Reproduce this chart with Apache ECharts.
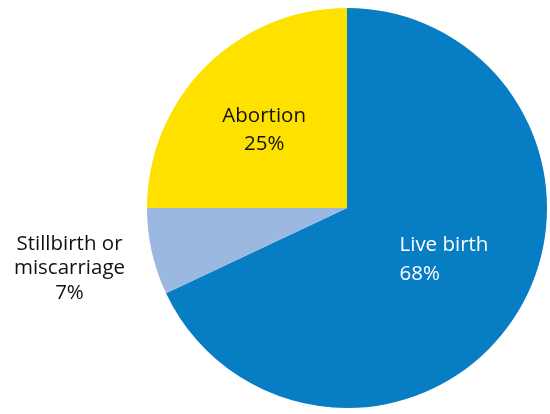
<!DOCTYPE html>
<html><head><meta charset="utf-8">
<script src="https://cdn.jsdelivr.net/npm/echarts@6/dist/echarts.min.js"></script>
<style>html,body{margin:0;padding:0;background:#fff}#c{width:550px;height:414px}</style>
</head><body><div id="c"></div>
<script>
const categories = ['Live birth', 'Stillbirth or\nmiscarriage', 'Abortion'];
const values = [68, 7, 25];
const colors = ['#077dc3', '#9bb8e0', '#ffe100'];
const labelColors = ['#ffffff', '#111111', '#111111'];
const lineAlign = ['left', 'center', 'center'];
const labelOffsets = [[10, -4], [-177, 38], [-10, -5]];
const labelLineHeights = [29, 24.5, 28];

const chart = echarts.init(document.getElementById('c'));
chart.setOption({
  animation: false,
  series: [{
    type: 'pie',
    center: [347, 208],
    radius: [0, 200],
    startAngle: 90,
    clockwise: true,
    avoidLabelOverlap: false,
    itemStyle: { borderWidth: 0 },
    labelLine: { show: false },
    data: categories.map((c, i) => ({
      name: c,
      value: values[i],
      itemStyle: { color: colors[i] },
      label: {
        show: true,
        position: 'inside',
        formatter: (p) => p.name.split('\n').map(s => '{t|' + s + '}').join('\n') + '\n{t|' + p.value + '%}',
        offset: labelOffsets[i],
        rich: {
          t: {
            color: labelColors[i],
            align: lineAlign[i],
            lineHeight: labelLineHeights[i],
            fontSize: 20.5,
            fontFamily: 'Open Sans',
            textBorderWidth: 0
          }
        }
      }
    }))
  }]
});
</script></body></html>
